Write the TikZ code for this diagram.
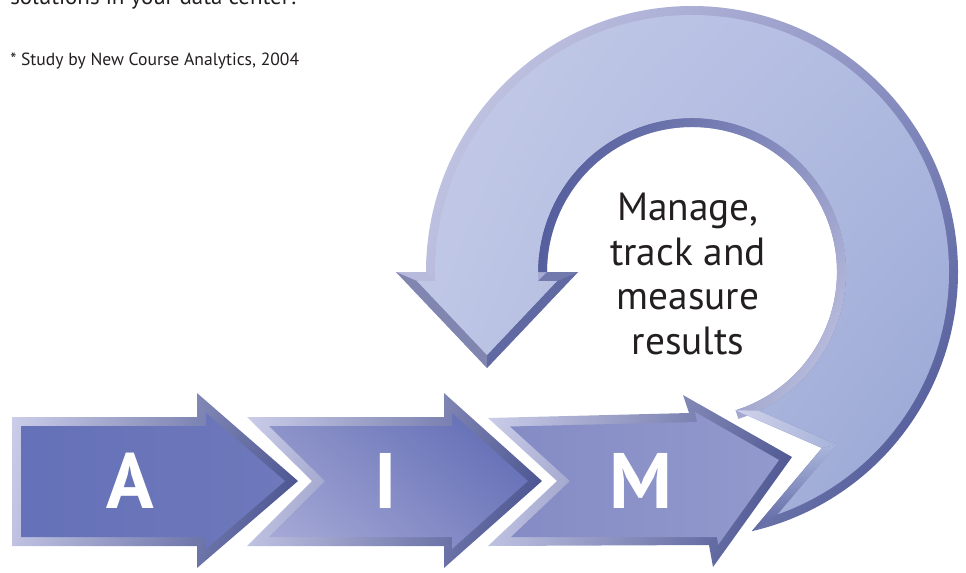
\documentclass[tikz,border=0pt]{standalone}
\usepackage{fontspec}
\setmainfont{PT Sans}
\usetikzlibrary{calc,shadings}
\definecolor{mytext}{HTML}{231F20}
\definecolor{mybevul}{HTML}{CDCFEA}
\definecolor{mybevur}{HTML}{5A6299}
\definecolor{mybevll}{HTML}{BDC0E0}
\definecolor{mybevlr}{HTML}{3F4A8A}
\definecolor{myAl}{HTML}{6571B8}
\definecolor{myAr}{HTML}{6E78BB}
\definecolor{myIul}{HTML}{8A91C8}
\definecolor{myIur}{HTML}{5B67B2}
\definecolor{myIll}{HTML}{A9ACD8}
\definecolor{myIlr}{HTML}{7880BF}
\definecolor{myMl}{HTML}{858CC5}
\definecolor{myMr}{HTML}{9299CC}
\definecolor{myringul}{HTML}{D0D1EA}
\definecolor{myringur}{HTML}{8A90C2}
\definecolor{myringll}{HTML}{B0B3D8}
\definecolor{myringlr}{HTML}{424D8E}
\definecolor{myfaceul}{HTML}{C5CBE8}
\definecolor{myfaceur}{HTML}{B0BBE1}
\definecolor{myfacell}{HTML}{BCC4E5}
\definecolor{myfacelr}{HTML}{97A5D3}
\definecolor{myholeul}{HTML}{4E5898}
\definecolor{myholeur}{HTML}{8F95C5}
\definecolor{myholell}{HTML}{5D66A3}
\definecolor{myholelr}{HTML}{D0D2EA}

\begin{document}
\begin{tikzpicture}[x=0.75pt,y=-0.75pt,
    bevel/.style={upper left=mybevul,upper right=mybevur,
      lower left=mybevll,lower right=mybevlr},
    ringbevel/.style={upper left=myringul,upper right=myringur,
      lower left=myringll,lower right=myringlr},
    ringface/.style={upper left=myfaceul,upper right=myfaceur,
      lower left=myfacell,lower right=myfacelr},
    holeedge/.style={upper left=myholeul,upper right=myholeur,
      lower left=myholell,lower right=myholelr},
    letter/.style={text=white,inner sep=0pt,anchor=base,
      font=\fontsize{59}{59}\selectfont\bfseries},
    caption/.style={text=mytext,inner sep=0pt,anchor=base,align=center,
      font=\fontsize{29.5}{33.5}\selectfont},
    note/.style={text=mytext,inner sep=0pt,anchor=base west,
      font=\fontsize{13.2}{15}\selectfont},
    lead/.style={note,font=\fontsize{17.2}{20}\selectfont},
  ]
  \clip (0,0) rectangle (966,572);
  \coordinate (C) at (692,272);

  % circular arrow
  \shade[ringbevel] ($(C)+(180:266)$) arc[start angle=180,end angle=437,radius=266]
    -- (822,448) -- ($(C)+(432.5:145)$) arc[start angle=432.5,end angle=180,radius=145]
    -- (578,272) -- (487,368) -- (396,272) -- cycle;
  \shade[holeedge] ($(C)+(180:145)$) arc[start angle=180,end angle=432.5,radius=145]
    -- ($(C)+(432.5:154)$) arc[start angle=432.5,end angle=180,radius=154] -- cycle;
  \fill[myringll!90!white] (396,272) -- (426,272) -- (435,281) -- (417,281) -- cycle;
  \fill[myholeur!90!black] (396,272) -- (417,281) -- (487,355) -- (487,368) -- cycle;
  \fill[myholeul!80!white] (547,272) -- (578,272) -- (557,281) -- (538,281) -- cycle;
  \fill[myholeul!90!white] (578,272) -- (487,368) -- (487,355) -- (557,281) -- cycle;
  \shade[left color=myholelr,right color=myfacelr!85!white]
    (735.6,410.3) -- (822,448) -- (836.7,444.6) -- (759,410.7) -- cycle;
  \shade[top color=myfacelr!80!white,bottom color=myholell]
    (822,448) -- (751.8,531.2) -- (777.9,514.2) -- (836.7,444.6) -- cycle;
  \shade[ringface] ($(C)+(180:257)$) arc[start angle=180,end angle=430.5,radius=257]
    -- (836.7,444.6) -- ($(C)+(424.2:154)$) arc[start angle=424.2,end angle=180,radius=154]
    -- (538,281) -- (557,281) -- (487,355) -- (417,281) -- (435,281) -- cycle;

  % straight arrows
  \shade[bevel] (12,417) -- (197,417) -- (197,393) -- (298,481) -- (197,568)
    -- (197,546) -- (12,546) -- cycle;
  \shade[left color=myAl,right color=myAr] (21,426) -- (206,426) -- (206,413)
    -- (285,481) -- (206,549) -- (206,537) -- (21,537) -- cycle;
  \shade[bevel] (247,417) -- (444,417) -- (444,393) -- (542,481) -- (444,568)
    -- (444,546) -- (247,546) -- (312,481) -- cycle;
  \shade[upper left=myIul,upper right=myIur,lower left=myIll,lower right=myIlr]
    (269,426) -- (452,426) -- (452,413) -- (528,481) -- (452,549)
    -- (452,537) -- (269,537) -- (325,481) -- cycle;
  \shade[bevel] (488,418) -- (689,413) -- (683,395) -- (792,457) -- (713,567)
    -- (709,545) -- (488,546) -- (557,481) -- cycle;
  \shade[left color=myMl,right color=myMr] (510,426.5) -- (697,422) -- (695,412)
    -- (779,460) -- (718,545) -- (717,537) -- (511,537) -- (570,481) -- cycle;

  % texts
  \node[letter] (lA) at (130,508) {A};
  \node[letter] (lI) at (386,508) {I};
  \node[letter] (lM) at (641,508) {M};
  \node[caption] (manage) at (688,354.5) {Manage,\\track and\\measure\\results};
  \node[note] (study) at (10,65) {* Study by New Course Analytics, 2004};
  \node[lead] (solutions) at (10,4) {solutions in your data center?};
\end{tikzpicture}
\end{document}
